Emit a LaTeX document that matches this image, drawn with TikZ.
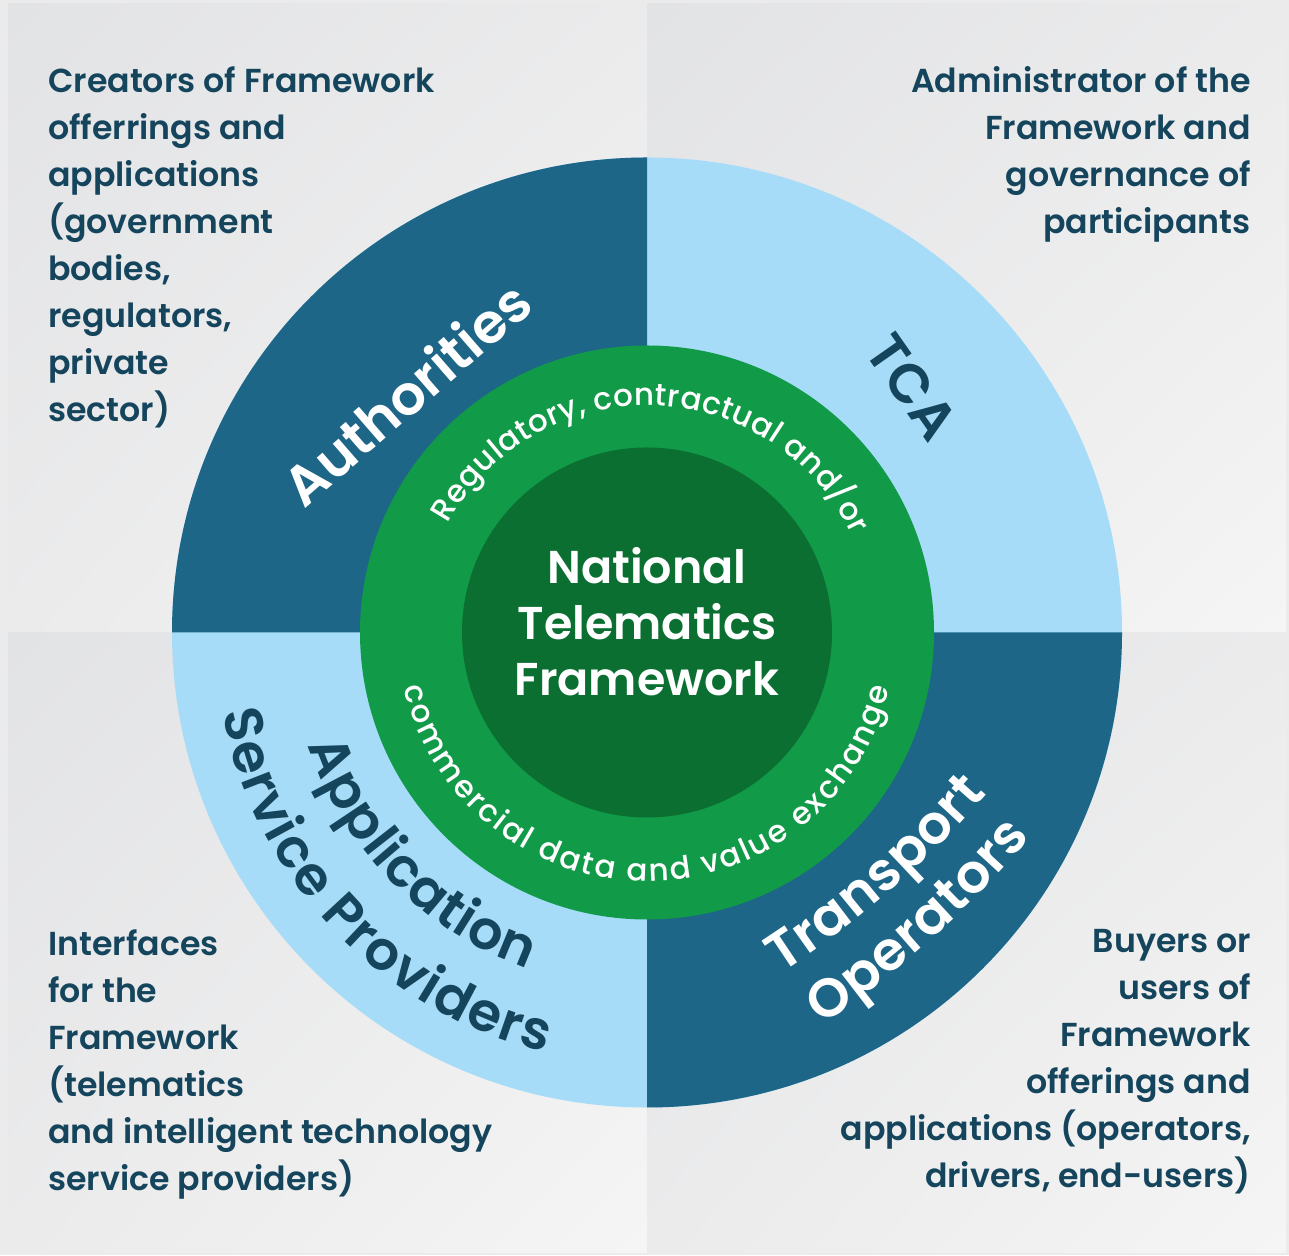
\documentclass[tikz,border=0pt]{standalone}
\usepackage{fontspec}
\usetikzlibrary{decorations.text,shadings}
\newfontfamily\popreg{Poppins}
\newfontfamily\popmed{Poppins Medium}
\newfontfamily\popsemi{Poppins SemiBold}
\definecolor{dblue}{HTML}{1D6687}
\definecolor{lblue}{HTML}{A6DCF7}
\definecolor{rgreen}{HTML}{119A48}
\definecolor{dgreen}{HTML}{0B6F32}
\definecolor{navy}{HTML}{15455C}
\definecolor{frame}{HTML}{EBEBEB}
\definecolor{qa}{HTML}{E2E3E5}
\definecolor{qb}{HTML}{EBEBEC}
\definecolor{qc}{HTML}{F5F5F5}
\begin{document}
\begin{tikzpicture}[x=1pt,y=1pt,
  side/.style={inner sep=0pt, text=navy, font=\popsemi\fontsize{33.2}{47}\selectfont},
  lab/.style={inner sep=0pt, font=\popsemi\fontsize{55}{66}\selectfont},
  quad/.style={upper left=qa, upper right=qb, lower left=qb, lower right=qc},
  arctext/.style={decorate, decoration={text along path, text align={fit to path}, #1}}
]
\fill[frame] (0,0) rectangle (1289,1255);
\useasboundingbox (0,0) rectangle (1289,1255);
% background quadrants
\shade[quad] (8,622.5) rectangle (647,1251);
\shade[quad] (647,622.5) rectangle (1286,1251);
\shade[quad] (8,3) rectangle (647,622.5);
\shade[quad] (647,3) rectangle (1286,622.5);
% rings
\coordinate (C) at (647,622.5);
\fill[lblue] (C) circle[radius=475];
\fill[dblue] (C) -- ++(180:475) arc[start angle=180,end angle=90,radius=475] -- cycle;
\fill[dblue] (C) -- ++(0:475) arc[start angle=0,end angle=-90,radius=475] -- cycle;
\fill[rgreen] (C) circle[radius=287];
\fill[dgreen] (C) circle[radius=185];
% centre
\node[inner sep=0pt, text=white, align=center, font=\popsemi\fontsize{46}{56}\selectfont] (ntf) at (647,633) {National\\Telematics\\Framework};
% ring texts
\path[arctext={text={|\popmed\fontsize{31}{31}\selectfont\color{white}|Regulatory, contractual and/or}}]
  ([shift={(C)}]151.3:227) arc[start angle=151.3, end angle=25.4, radius=227];
\path[arctext={text={|\popmed\fontsize{31}{31}\selectfont\color{white}|commercial data and value exchange}}]
  ([shift={(C)}]192.7:249) arc[start angle=192.7, end angle=347, radius=249];
% quadrant labels
\node[lab, text=white, rotate=41] (auth) at (406,862) {Authorities};
\node[lab, text=navy, rotate=-55] (tca) at (912,868) {TCA};
\path[arctext={text={|\popsemi\fontsize{54}{54}\selectfont\color{navy}|Application}}]
  ([shift={(C)}]198.5:357) arc[start angle=198.5, end angle=250.5, radius=357];
\path[arctext={text={|\popsemi\fontsize{54}{54}\selectfont\color{navy}|Service Providers}}]
  ([shift={(C)}]190.7:432) arc[start angle=190.7, end angle=256.4, radius=432];
\coordinate (tr0) at (781,282);
\coordinate (tr1) at (987,461);
\coordinate (op0) at (822,230);
\coordinate (op1) at (1031,418);
\path[arctext={text={|\popsemi\fontsize{54}{54}\selectfont\color{white}|Transport}}]
  (tr0) .. controls (860,333) and (928.3,393.3) .. (tr1);
\path[arctext={text={|\popsemi\fontsize{54}{54}\selectfont\color{white}|Operators}}]
  (op0) .. controls (900.3,283.3) and (970,346) .. (op1);
% side texts
\node[side, anchor=north west, align=left] (tl) at (48,1189) {Creators of Framework\\offerrings and\\applications\\(government\\bodies,\\regulators,\\private\\sector)};
\node[side, anchor=north east, align=right] (tr) at (1251,1189) {Administrator of the\\Framework and\\governance of\\participants};
\node[side, anchor=north west, align=left] (bl) at (48,326) {Interfaces\\for the\\Framework\\(telematics\\and intelligent technology\\service providers)};
\node[side, anchor=north east, align=right] (br) at (1251,326) {Buyers or\\users of\\Framework\\offerings and\\applications (operators,\\drivers, end-users)};
\end{tikzpicture}
\end{document}
